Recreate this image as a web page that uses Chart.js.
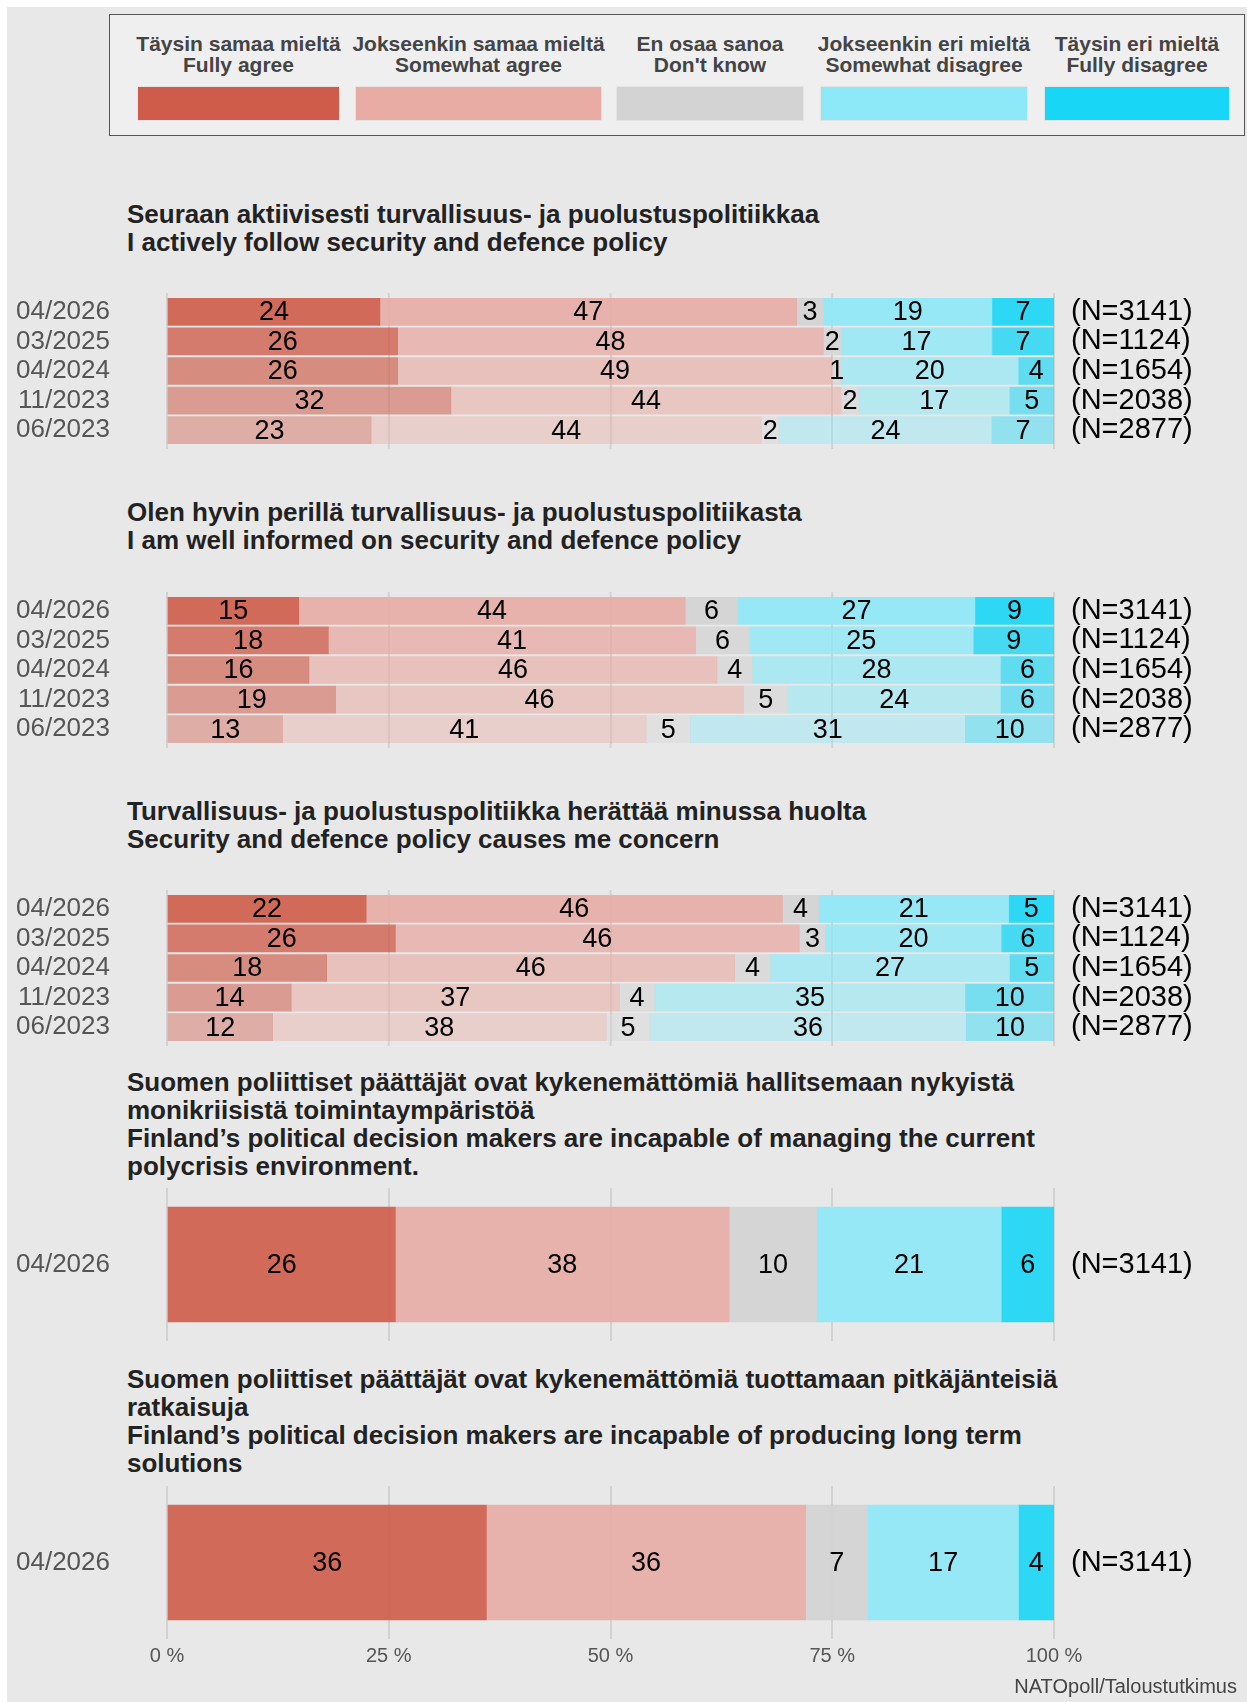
<!DOCTYPE html>
<html>
<head>
<meta charset="utf-8">
<script src="https://cdn.jsdelivr.net/npm/chart.js@4.4.1/dist/chart.umd.min.js"></script>
<style>
  body { margin: 0; background: #fff; font-family: 'Liberation Sans', Arial, sans-serif; }
  #page { position: relative; width: 1247px; height: 1702px; overflow: hidden; }
  #bg { position: absolute; left: 7px; top: 7px; width: 1240px; height: 1695px; background: #e8e8e8; }
  #legend { position: absolute; left: 109px; top: 14px; width: 1134px; height: 120px; background: #efefef; border: 1px solid #555; }
  .lg-text { position: absolute; top: 18px; font-weight: bold; font-size: 21px; line-height: 21px; color: #444; text-align: center; white-space: nowrap; transform: translateX(-50%); }
  .lg-swatch { position: absolute; top: 71px; height: 35px; box-sizing: border-box; border: 1px solid #e4e4e4; }
  .title { position: absolute; left: 127px; font-weight: bold; font-size: 26px; line-height: 28px; color: #222; white-space: nowrap; }
  canvas { position: absolute; left: 0; }
  #source { position: absolute; right: 10px; top: 1675px; font-size: 20px; color: #444; }
</style>
</head>
<body>
<div id="page">
  <div id="bg"></div>
  <div id="legend"></div>
  <div id="titles"></div>
  <canvas id="c1" width="1247" height="156" style="top:293px"></canvas>
  <canvas id="c2" width="1247" height="156" style="top:592px"></canvas>
  <canvas id="c3" width="1247" height="156" style="top:890px"></canvas>
  <canvas id="c4" width="1247" height="153" style="top:1188px"></canvas>
  <canvas id="c5" width="1247" height="195" style="top:1486px"></canvas>
  <div id="source">NATOpoll/Taloustutkimus</div>
</div>
<script>
// answer categories
var catFi = ['Täysin samaa mieltä', 'Jokseenkin samaa mieltä', 'En osaa sanoa', 'Jokseenkin eri mieltä', 'Täysin eri mieltä'];
var catEn = ['Fully agree', 'Somewhat agree', "Don't know", 'Somewhat disagree', 'Fully disagree'];
var catColors = ['#cf5c4a', '#e8aca5', '#d3d3d3', '#8de8f8', '#18d6f5'];

var waves = ['04/2026', '03/2025', '04/2024', '11/2023', '06/2023'];
var sampleSizes = ['(N=3141)', '(N=1124)', '(N=1654)', '(N=2038)', '(N=2877)'];
var rowAlpha = [0.9, 0.78, 0.66, 0.54, 0.42];

// rows = waves, columns = categories
var followPolicy = [
    [24, 47, 3, 19, 7],
    [26, 48, 2, 17, 7],
    [26, 49, 1, 20, 4],
    [32, 44, 2, 17, 5],
    [23, 44, 2, 24, 7]
];
var wellInformed = [
    [15, 44, 6, 27, 9],
    [18, 41, 6, 25, 9],
    [16, 46, 4, 28, 6],
    [19, 46, 5, 24, 6],
    [13, 41, 5, 31, 10]
];
var causesConcern = [
    [22, 46, 4, 21, 5],
    [26, 46, 3, 20, 6],
    [18, 46, 4, 27, 5],
    [14, 37, 4, 35, 10],
    [12, 38, 5, 36, 10]
];
var polycrisis = [
    [26, 38, 10, 21, 6]
];
var longTerm = [
    [36, 36, 7, 17, 4]
];

var titles = [
    { top: 200, lines: ['Seuraan aktiivisesti turvallisuus- ja puolustuspolitiikkaa', 'I actively follow security and defence policy'] },
    { top: 498, lines: ['Olen hyvin perillä turvallisuus- ja puolustuspolitiikasta', 'I am well informed on security and defence policy'] },
    { top: 797, lines: ['Turvallisuus- ja puolustuspolitiikka herättää minussa huolta', 'Security and defence policy causes me concern'] },
    { top: 1068, lines: ['Suomen poliittiset päättäjät ovat kykenemättömiä hallitsemaan nykyistä', 'monikriisistä toimintaympäristöä', 'Finland’s political decision makers are incapable of managing the current', 'polycrisis environment.'] },
    { top: 1365, lines: ['Suomen poliittiset päättäjät ovat kykenemättömiä tuottamaan pitkäjänteisiä', 'ratkaisuja', 'Finland’s political decision makers are incapable of producing long term', 'solutions'] }
];

var tickValues = [0, 25, 50, 75, 100];
var gridColor = '#d2d2d2';

// legend (html)
var swatchX = [[137, 340], [355, 602], [616, 804], [820, 1028], [1044, 1230]];
var legend = document.getElementById('legend');
catFi.forEach(function (fi, i) {
    var x0 = swatchX[i][0] - 110, x1 = swatchX[i][1] - 110;
    var t = document.createElement('div');
    t.className = 'lg-text';
    t.style.left = ((x0 + x1) / 2) + 'px';
    t.innerHTML = fi + '<br>' + catEn[i];
    legend.appendChild(t);
    var s = document.createElement('div');
    s.className = 'lg-swatch';
    s.style.left = x0 + 'px';
    s.style.width = (x1 - x0) + 'px';
    s.style.background = catColors[i];
    legend.appendChild(s);
});

var titleBox = document.getElementById('titles');
titles.forEach(function (t) {
    var d = document.createElement('div');
    d.className = 'title';
    d.style.top = t.top + 'px';
    d.innerHTML = t.lines.join('<br>');
    titleBox.appendChild(d);
});

function hexAlpha(hex, a) {
    var r = parseInt(hex.substr(1, 2), 16), g = parseInt(hex.substr(3, 2), 16), b = parseInt(hex.substr(5, 2), 16);
    return 'rgba(' + r + ',' + g + ',' + b + ',' + a + ')';
}

Chart.defaults.font.family = "'Liberation Sans', Arial, sans-serif";
Chart.defaults.animation = false;

var valueLabels = {
    id: 'valueLabels',
    afterDatasetsDraw: function (chart) {
        var c = chart.ctx;
        c.save();
        c.font = "27px 'Liberation Sans', Arial, sans-serif";
        c.fillStyle = '#000';
        c.textAlign = 'center';
        c.textBaseline = 'middle';
        chart.data.datasets.forEach(function (ds, i) {
            chart.getDatasetMeta(i).data.forEach(function (bar, j) {
                c.fillText(ds.shown[j], (bar.x + bar.base) / 2, bar.y + 1);
            });
        });
        c.restore();
    }
};

// short grid stubs above and below the chart area
var gridStubs = {
    id: 'gridStubs',
    beforeDatasetsDraw: function (chart, args, opts) {
        var ext = opts.ext || 0;
        if (!ext) return;
        var c = chart.ctx, a = chart.chartArea, x = chart.scales.x;
        c.save();
        c.strokeStyle = gridColor;
        c.lineWidth = 2;
        tickValues.forEach(function (v) {
            var px = x.getPixelForValue(v);
            c.beginPath();
            c.moveTo(px, a.top - ext); c.lineTo(px, a.top);
            c.moveTo(px, a.bottom); c.lineTo(px, a.bottom + ext);
            c.stroke();
        });
        c.restore();
    }
};

// keep vertical axes from padding the chart area
function noVPad(s) { s.paddingTop = 0; s.paddingBottom = 0; }

function makePanel(id, rows, barThickness, showTicks, ext) {
    var labels = waves.slice(0, rows.length);
    var nLabels = sampleSizes.slice(0, rows.length);
    var datasets = catFi.map(function (name, k) {
        return {
            label: name + ' / ' + catEn[k],
            shown: rows.map(function (r) { return r[k]; }),
            data: rows.map(function (r) {
                var sum = r.reduce(function (a, b) { return a + b; }, 0);
                return r[k] / sum * 100;
            }),
            backgroundColor: rows.map(function (r, j) { return hexAlpha(catColors[k], rowAlpha[j]); }),
            borderWidth: 0,
            barThickness: barThickness
        };
    });
    return new Chart(document.getElementById(id), {
        type: 'bar',
        data: { labels: labels, datasets: datasets },
        options: {
            indexAxis: 'y',
            responsive: false,
            layout: { padding: { top: ext, bottom: ext, left: 0, right: 0 } },
            plugins: { legend: { display: false }, tooltip: { enabled: false }, gridStubs: { ext: ext } },
            scales: {
                x: {
                    stacked: true,
                    min: 0,
                    max: 100,
                    afterBuildTicks: function (s) { s.ticks = tickValues.map(function (v) { return { value: v }; }); },
                    grid: { color: gridColor, lineWidth: 2, drawTicks: false },
                    border: { display: false },
                    ticks: {
                        display: showTicks,
                        color: '#555',
                        font: { size: 20 },
                        padding: 5,
                        callback: function (v) { return v + ' %'; }
                    },
                    afterFit: function (s) { s.height = showTicks ? 42 : 0; s.paddingLeft = 0; s.paddingRight = 0; }
                },
                y: {
                    stacked: true,
                    grid: { display: false, drawTicks: false },
                    border: { display: false },
                    ticks: { color: '#555', font: { size: 26 }, padding: 57, autoSkip: false },
                    afterFit: function (s) { s.width = 167; noVPad(s); }
                },
                y2: {
                    type: 'category',
                    labels: nLabels,
                    position: 'right',
                    grid: { display: false, drawTicks: false },
                    border: { display: false },
                    ticks: { color: '#000', font: { size: 29 }, padding: 17, autoSkip: false },
                    afterFit: function (s) { s.width = 1247 - 1054; noVPad(s); }
                }
            }
        },
        plugins: [gridStubs, valueLabels]
    });
}

window.onload = function () {
    makePanel('c1', followPolicy, 27, false, 4);
    makePanel('c2', wellInformed, 27, false, 4);
    makePanel('c3', causesConcern, 27, false, 4);
    makePanel('c4', polycrisis, 115, false, 0);
    makePanel('c5', longTerm, 115, true, 0);
}
</script>
</body>
</html>
